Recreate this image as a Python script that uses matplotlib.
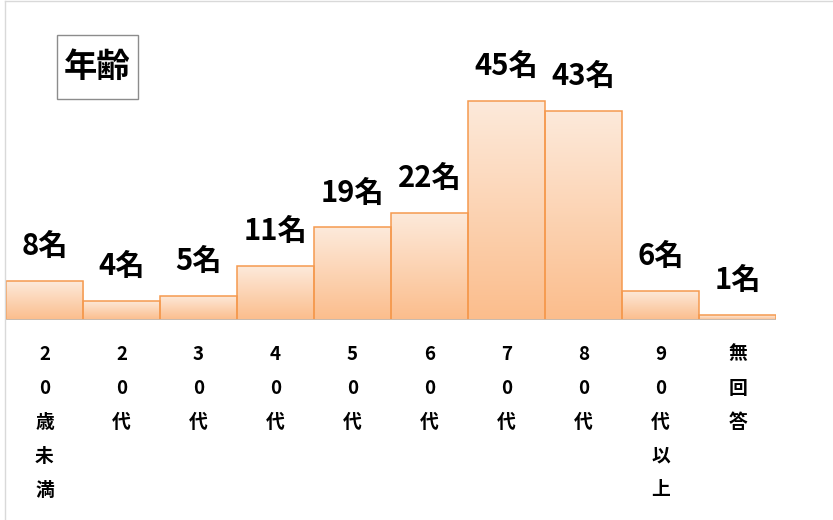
import matplotlib.pyplot as plt
import numpy as np
from matplotlib.colors import LinearSegmentedColormap
from matplotlib.patches import Rectangle
from matplotlib.lines import Line2D

plt.rcParams['font.family'] = ['Noto Sans CJK JP', 'DejaVu Sans']

# data
categories = ['20歳未満', '20代', '30代', '40代', '50代', '60代', '70代', '80代', '90代以上', '無回答']
counts = [8, 4, 5, 11, 19, 22, 45, 43, 6, 1]
title = '年齢'

W, H = 833, 520
fig = plt.figure(figsize=(W / 100, H / 100), dpi=100)
PT = 0.72  # points per pixel at dpi 100

# axes: baseline at y=320 px, bars from x=6 to 776 px
left, right, base, top = 6, 776, 320, 10
ax = fig.add_axes([left / W, (H - base) / H, (right - left) / W, (base - top) / H])
px_per_unit = 4.87
ax.axis('off')

cmap = LinearSegmentedColormap.from_list('peach', ['#fbbd8c', '#fdeadb'])
grad = np.linspace(0, 1, 256).reshape(-1, 1)

bars = ax.bar(np.arange(len(counts)), counts, width=1.0, align='edge',
              facecolor='none', edgecolor='#f59a4f', linewidth=1.1, zorder=3)
for b, v in zip(bars, counts):
    im = ax.imshow(grad, cmap=cmap, origin='lower', aspect='auto',
                   extent=(b.get_x(), b.get_x() + b.get_width(), 0, v), zorder=2)
    im.set_clip_path(b)
    ax.annotate(f'{v}名', (b.get_x() + 0.5, v), xytext=(0, 35 * PT), textcoords='offset points',
                ha='center', va='center', fontsize=21, fontweight='bold', zorder=4)

ax.set_xlim(0, len(counts))
ax.set_ylim(0, (base - top) / px_per_unit)

# baseline
ax.axhline(0, color='#bfbfbf', linewidth=1.2, zorder=5)

# vertical category labels, one character per row
for i, c in enumerate(categories):
    for k, ch in enumerate(c):
        ax.annotate(ch, (i + 0.5, 0), xytext=(0, -(34 + 34 * k) * PT), textcoords='offset points',
                    ha='center', va='center', fontsize=13.5, fontweight='bold')

# title box
fig.add_artist(Rectangle((57 / W, 1 - 99 / H), 81 / W, 64 / H, transform=fig.transFigure,
                         facecolor='white', edgecolor='#8c8c8c', linewidth=1))
fig.text(97.5 / W, 1 - 67 / H, title, ha='center', va='center', fontsize=24, fontweight='bold')

# chart frame (left and top visible)
fig.add_artist(Line2D([5 / W, 5 / W], [0, 1 - 1 / H], color='#d9d9d9', linewidth=1, transform=fig.transFigure))
fig.add_artist(Line2D([5 / W, 1], [1 - 1 / H, 1 - 1 / H], color='#d9d9d9', linewidth=1, transform=fig.transFigure))

fig.savefig('out.png', dpi=100)
